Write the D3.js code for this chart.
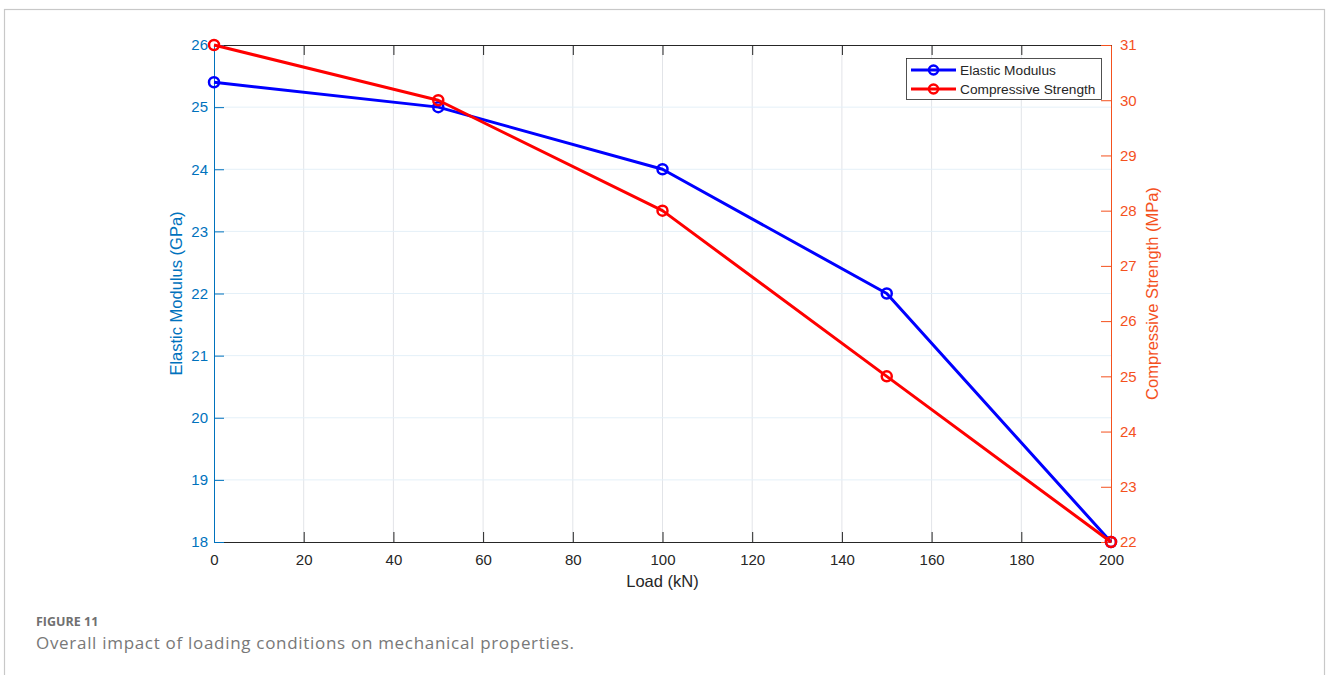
<!DOCTYPE html>
<html>
<head>
<meta charset="utf-8">
<script src="https://cdn.jsdelivr.net/npm/d3@7"></script>
<style>
  html, body { margin: 0; padding: 0; background: #fff; }
  svg { display: block; }
</style>
</head>
<body>
<svg id="chart" width="1328" height="675"></svg>
<script>
// Load steps and measured properties
const loads = [0, 50, 100, 150, 200];
const elasticModulus = [25.4, 25, 24, 22, 18];          // GPa
const compressiveStrength = [31, 30, 28, 25, 22];       // MPa
const xTicks = [0, 20, 40, 60, 80, 100, 120, 140, 160, 180, 200];
const leftTicks = [18, 19, 20, 21, 22, 23, 24, 25, 26];
const rightTicks = [22, 23, 24, 25, 26, 27, 28, 29, 30, 31];

const blue = "#0072BD", orange = "#F4511E";
const FONT = "Liberation Sans, Arial, Helvetica, sans-serif";

const svg = d3.select("#chart");
const m = { left: 214, right: 1111, top: 45, bottom: 542 };

function styleText(sel, size, color) {
  sel.attr("font-family", FONT).attr("font-size", size).attr("fill", color);
  return sel;
}

// Outer frame
svg.append("rect").attr("x", 4.5).attr("y", 9.5).attr("width", 1320).attr("height", 700)
  .attr("fill", "none").attr("stroke", "#c8c8c8").attr("stroke-width", 1.2);

const x = d3.scaleLinear().domain([0, 200]).range([m.left, m.right]);
const yL = d3.scaleLinear().domain([18, 26]).range([m.bottom, m.top]);
const yR = d3.scaleLinear().domain([22, 31]).range([m.bottom, m.top]);

// Grid
const grid = svg.append("g");
grid.selectAll(".vg").data(xTicks.slice(1, -1)).enter().append("line")
  .attr("x1", d => x(d)).attr("x2", d => x(d)).attr("y1", m.top).attr("y2", m.bottom)
  .attr("stroke", "#e2e4e8").attr("stroke-width", 1);
grid.selectAll(".hg").data(leftTicks.slice(1, -1)).enter().append("line")
  .attr("x1", m.left).attr("x2", m.right).attr("y1", d => yL(d)).attr("y2", d => yL(d))
  .attr("stroke", "#e4f0f8").attr("stroke-width", 1);

// Axes
const tickLen = 10;
const bottomAxis = svg.append("g").attr("transform", `translate(0,${m.bottom})`)
  .call(d3.axisBottom(x).tickValues(xTicks).tickSizeInner(-tickLen).tickSizeOuter(0).tickPadding(12));
bottomAxis.attr("font-family", null).attr("font-size", null);
bottomAxis.select(".domain").attr("stroke", "#262626");
bottomAxis.selectAll(".tick line").attr("stroke", "#262626");
styleText(bottomAxis.selectAll("text"), 15, "#262626");

const topAxis = svg.append("g").attr("transform", `translate(0,${m.top})`)
  .call(d3.axisTop(x).tickValues(xTicks).tickSizeInner(-tickLen).tickSizeOuter(0).tickFormat(""));
topAxis.select(".domain").attr("stroke", "#262626");
topAxis.selectAll(".tick line").attr("stroke", "#262626");

const leftAxis = svg.append("g").attr("transform", `translate(${m.left},0)`)
  .call(d3.axisLeft(yL).tickValues(leftTicks).tickSizeInner(-tickLen).tickSizeOuter(0).tickPadding(6));
leftAxis.attr("font-family", null).attr("font-size", null);
leftAxis.select(".domain").attr("stroke", blue);
leftAxis.selectAll(".tick line").attr("stroke", blue);
styleText(leftAxis.selectAll("text"), 15, blue);

const rightAxis = svg.append("g").attr("transform", `translate(${m.right},0)`)
  .call(d3.axisRight(yR).tickValues(rightTicks).tickSizeInner(-tickLen).tickSizeOuter(0).tickPadding(9));
rightAxis.attr("font-family", null).attr("font-size", null);
rightAxis.select(".domain").attr("stroke", orange);
rightAxis.selectAll(".tick line").attr("stroke", orange);
styleText(rightAxis.selectAll("text"), 15, orange);

// Axis titles
styleText(svg.append("text"), 16.5, "#262626")
  .attr("x", (m.left + m.right) / 2).attr("y", 587).attr("text-anchor", "middle")
  .text("Load (kN)");
styleText(svg.append("text"), 16.5, blue)
  .attr("transform", `translate(182,${(m.top + m.bottom) / 2}) rotate(-90)`)
  .attr("text-anchor", "middle").text("Elastic Modulus (GPa)");
styleText(svg.append("text"), 16.5, orange)
  .attr("transform", `translate(1158,${(m.top + m.bottom) / 2}) rotate(-90)`)
  .attr("text-anchor", "middle").text("Compressive Strength (MPa)");

// Series
const series = [
  { name: "Elastic Modulus", values: elasticModulus, y: yL, color: "#0000FF" },
  { name: "Compressive Strength", values: compressiveStrength, y: yR, color: "#FF0000" }
];

const plot = svg.append("g");
series.forEach(s => {
  const line = d3.line().x((d, i) => x(loads[i])).y(d => s.y(d));
  plot.append("path").datum(s.values).attr("d", line)
    .attr("fill", "none").attr("stroke", s.color).attr("stroke-width", 3)
    .attr("stroke-linejoin", "round");
  plot.selectAll(null).data(s.values).enter().append("circle")
    .attr("cx", (d, i) => x(loads[i])).attr("cy", d => s.y(d)).attr("r", 5)
    .attr("fill", "none").attr("stroke", s.color).attr("stroke-width", 2.5);
});

// Legend
const lg = svg.append("g").attr("transform", "translate(906,58)");
lg.append("rect").attr("x", 0.5).attr("y", 0.5).attr("width", 195).attr("height", 41)
  .attr("fill", "#fff").attr("stroke", "#262626").attr("stroke-width", 0.8);
series.forEach((s, i) => {
  const yy = 12 + i * 19;
  lg.append("line").attr("x1", 5).attr("x2", 50).attr("y1", yy).attr("y2", yy)
    .attr("stroke", s.color).attr("stroke-width", 3);
  lg.append("circle").attr("cx", 27.5).attr("cy", yy).attr("r", 4.5)
    .attr("fill", "none").attr("stroke", s.color).attr("stroke-width", 2.5);
  styleText(lg.append("text"), 13.7, "#262626")
    .attr("x", 54).attr("y", yy + 5).text(s.name);
});

// Caption
svg.append("text").attr("x", 36).attr("y", 626).attr("fill", "#707070")
  .attr("font-family", "Open Sans, Lato, sans-serif").attr("font-weight", "bold")
  .attr("font-size", 12.5).text("FIGURE 11");
svg.append("text").attr("x", 36).attr("y", 649).attr("fill", "#787878")
  .attr("font-family", "Open Sans, Lato, sans-serif").attr("font-size", 17)
  .attr("textLength", 538).attr("lengthAdjust", "spacing")
  .text("Overall impact of loading conditions on mechanical properties.");
</script>
</body>
</html>
